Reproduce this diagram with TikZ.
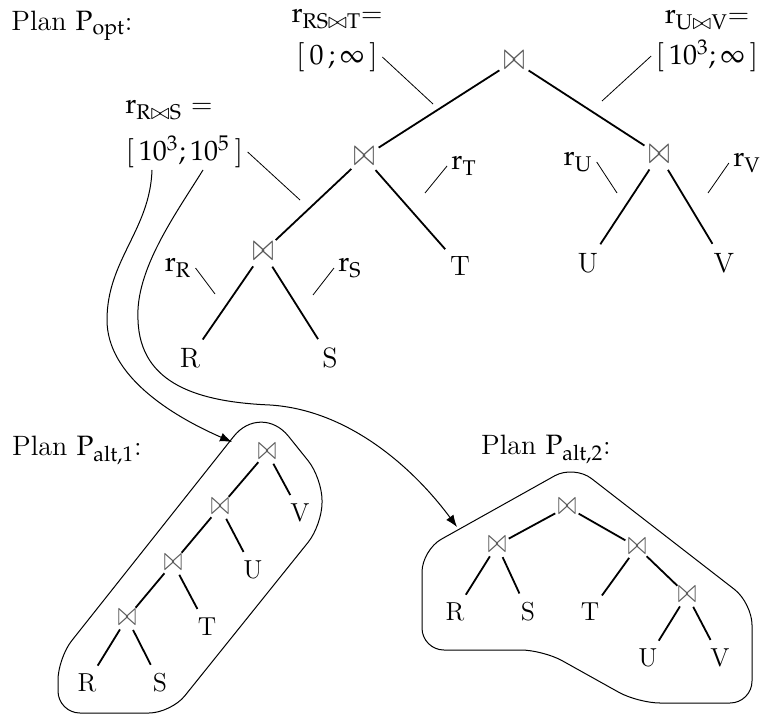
\documentclass[tikz,border=0pt]{standalone}
\usepackage{amsmath}
\usepackage{graphicx}
\usepackage{mathpazo}
\usetikzlibrary{arrows.meta}
\newcommand{\jsym}{\scalebox{1}[1.55]{$\bowtie$}}

\begin{document}
\begin{tikzpicture}[x=.5pt,y=-.5pt,
  jn/.style={circle,inner sep=0pt,minimum size=17pt,text=black!65,font=\fontsize{12}{12}\selectfont},
  lf/.style={circle,inner sep=0pt,minimum size=22pt,font=\fontsize{14}{16}\selectfont},
  sjn/.style={circle,inner sep=0pt,minimum size=13pt,text=black!65,font=\fontsize{10.5}{11}\selectfont},
  slf/.style={circle,inner sep=0pt,minimum size=20pt,font=\fontsize{13}{15}\selectfont},
  lbl/.style={inner sep=2pt,font=\fontsize{14}{16}\selectfont},
  edge/.style={line width=.9pt},
  tick/.style={line width=.4pt},
  box/.style={line width=.5pt,rounded corners=11pt},
  arr/.style={line width=.5pt,-{Latex[length=6pt,width=4.5pt]}}]
\path[use as bounding box] (0,0) rectangle (763,716);

\node[lbl] (popt) at (72,26) {Plan $\mathrm{P}_{\mathrm{opt}}$:};
\node[jn] (j1) at (514,61) {\jsym};
\node[jn] (j2) at (364,157) {\jsym};
\node[jn] (j3) at (263,252) {\jsym};
\node[jn] (j4) at (659,155) {\jsym};
\node[lf] (R) at (190,358) {R};
\node[lf] (S) at (330,358) {S};
\node[lf] (T) at (460,266) {T};
\node[lf] (U) at (588,263) {U};
\node[lf] (V) at (724,263) {V};
\draw[edge] (j1) -- (j2);
\draw[edge] (j1) -- (j4);
\draw[edge] (j2) -- (j3);
\draw[edge] (j2) -- (T);
\draw[edge] (j3) -- (R);
\draw[edge] (j3) -- (S);
\draw[edge] (j4) -- (U);
\draw[edge] (j4) -- (V);

\node[lbl] (rRSTa) at (337,19) {$\mathrm{r}_{\mathrm{RS}\bowtie\mathrm{T}}$=};
\node[lbl] (rRSTb) at (337,57) {$[\,0\,;\infty\,]$};
\node[lbl] (rUVa) at (707,20) {$\mathrm{r}_{\mathrm{U}\bowtie\mathrm{V}}$=};
\node[lbl] (rUVb) at (707,56) {$[\,10^3;\infty\,]$};
\node[lbl,anchor=west] (rRSa) at (121,110) {$\mathrm{r}_{\mathrm{R}\bowtie\mathrm{S}}$ =};
\node[lbl,anchor=west] (rRSb) at (121,152) {$[\,10^3;10^5\,]$};
\node[lbl] (rR) at (178,268) {$\mathrm{r}_{\mathrm{R}}$};
\node[lbl] (rS) at (350,268) {$\mathrm{r}_{\mathrm{S}}$};
\node[lbl] (rT) at (464,166) {$\mathrm{r}_{\mathrm{T}}$};
\node[lbl] (rU) at (578,162) {$\mathrm{r}_{\mathrm{U}}$};
\node[lbl] (rV) at (747,163) {$\mathrm{r}_{\mathrm{V}}$};
\coordinate (tRST) at (433,104);
\coordinate (tUV) at (602,101);
\coordinate (tRS) at (300,200);
\coordinate (tR) at (215,294);
\coordinate (tS) at (313,295);
\coordinate (tT) at (425,193);
\coordinate (tU) at (617,193);
\coordinate (tV) at (708,193);
\draw[tick] (rRSTb.east) -- (tRST);
\draw[tick] (rUVb.west) -- (tUV);
\draw[tick] (rRSb.east) -- (tRS);
\draw[tick] (rR.east) -- (tR);
\draw[tick] (rS.west) -- (tS);
\draw[tick] (rT.west) -- (tT);
\draw[tick] (rU.east) -- (tU);
\draw[tick] (rV.west) -- (tV);

\node[lbl] (palt1) at (77,450) {Plan $\mathrm{P}_{\mathrm{alt{,}1}}$:};
\node[sjn] (a1) at (267,452) {\jsym};
\node[sjn] (a2) at (220,507) {\jsym};
\node[sjn] (a3) at (173,563) {\jsym};
\node[sjn] (a4) at (127,618) {\jsym};
\node[slf] (aV) at (300,513) {V};
\node[slf] (aU) at (253,570) {U};
\node[slf] (aT) at (207,627) {T};
\node[slf] (aR) at (87,683) {R};
\node[slf] (aS) at (160,683) {S};
\draw[edge] (a1) -- (a2);
\draw[edge] (a1) -- (aV);
\draw[edge] (a2) -- (a3);
\draw[edge] (a2) -- (aU);
\draw[edge] (a3) -- (a4);
\draw[edge] (a3) -- (aT);
\draw[edge] (a4) -- (aR);
\draw[edge] (a4) -- (aS);
\draw[box] (110,713) -- (58,713) -- (58,658) [rounded corners=22pt] -- (261,402) [rounded corners=11pt] -- (322,478) -- (322,525) -- (171,713) -- cycle;

\node[lbl] (palt2) at (546,449) {Plan $\mathrm{P}_{\mathrm{alt{,}2}}$:};
\node[sjn] (b1) at (567,507) {\jsym};
\node[sjn] (b2) at (497,545) {\jsym};
\node[sjn] (b3) at (637,547) {\jsym};
\node[sjn] (b4) at (687,595) {\jsym};
\node[slf] (bR) at (455,612) {R};
\node[slf] (bS) at (528,612) {S};
\node[slf] (bT) at (590,612) {T};
\node[slf] (bU) at (648,658) {U};
\node[slf] (bV) at (720,658) {V};
\draw[edge] (b1) -- (b2);
\draw[edge] (b1) -- (b3);
\draw[edge] (b2) -- (bR);
\draw[edge] (b2) -- (bS);
\draw[edge] (b3) -- (bT);
\draw[edge] (b3) -- (b4);
\draw[edge] (b4) -- (bU);
\draw[edge] (b4) -- (bV);
\draw[box] (480,650) -- (422,650) -- (422,550) -- (574,465) -- (752,603) -- (752,703) -- (638,703) -- (543,650) -- cycle;

\coordinate (c1) at (152,170);
\coordinate (c2) at (203,170);
\coordinate (e1) at (232,442);
\coordinate (e2) at (457,527);
\draw[arr] (c1) .. controls (150,230) and (107,260) .. (107,320) .. controls (107,375) and (170,415) .. (e1);
\draw[arr] (c2) .. controls (175,215) and (135,270) .. (138,320) .. controls (140,385) and (200,402) .. (270,405) .. controls (350,410) and (415,470) .. (e2);
\end{tikzpicture}
\end{document}
